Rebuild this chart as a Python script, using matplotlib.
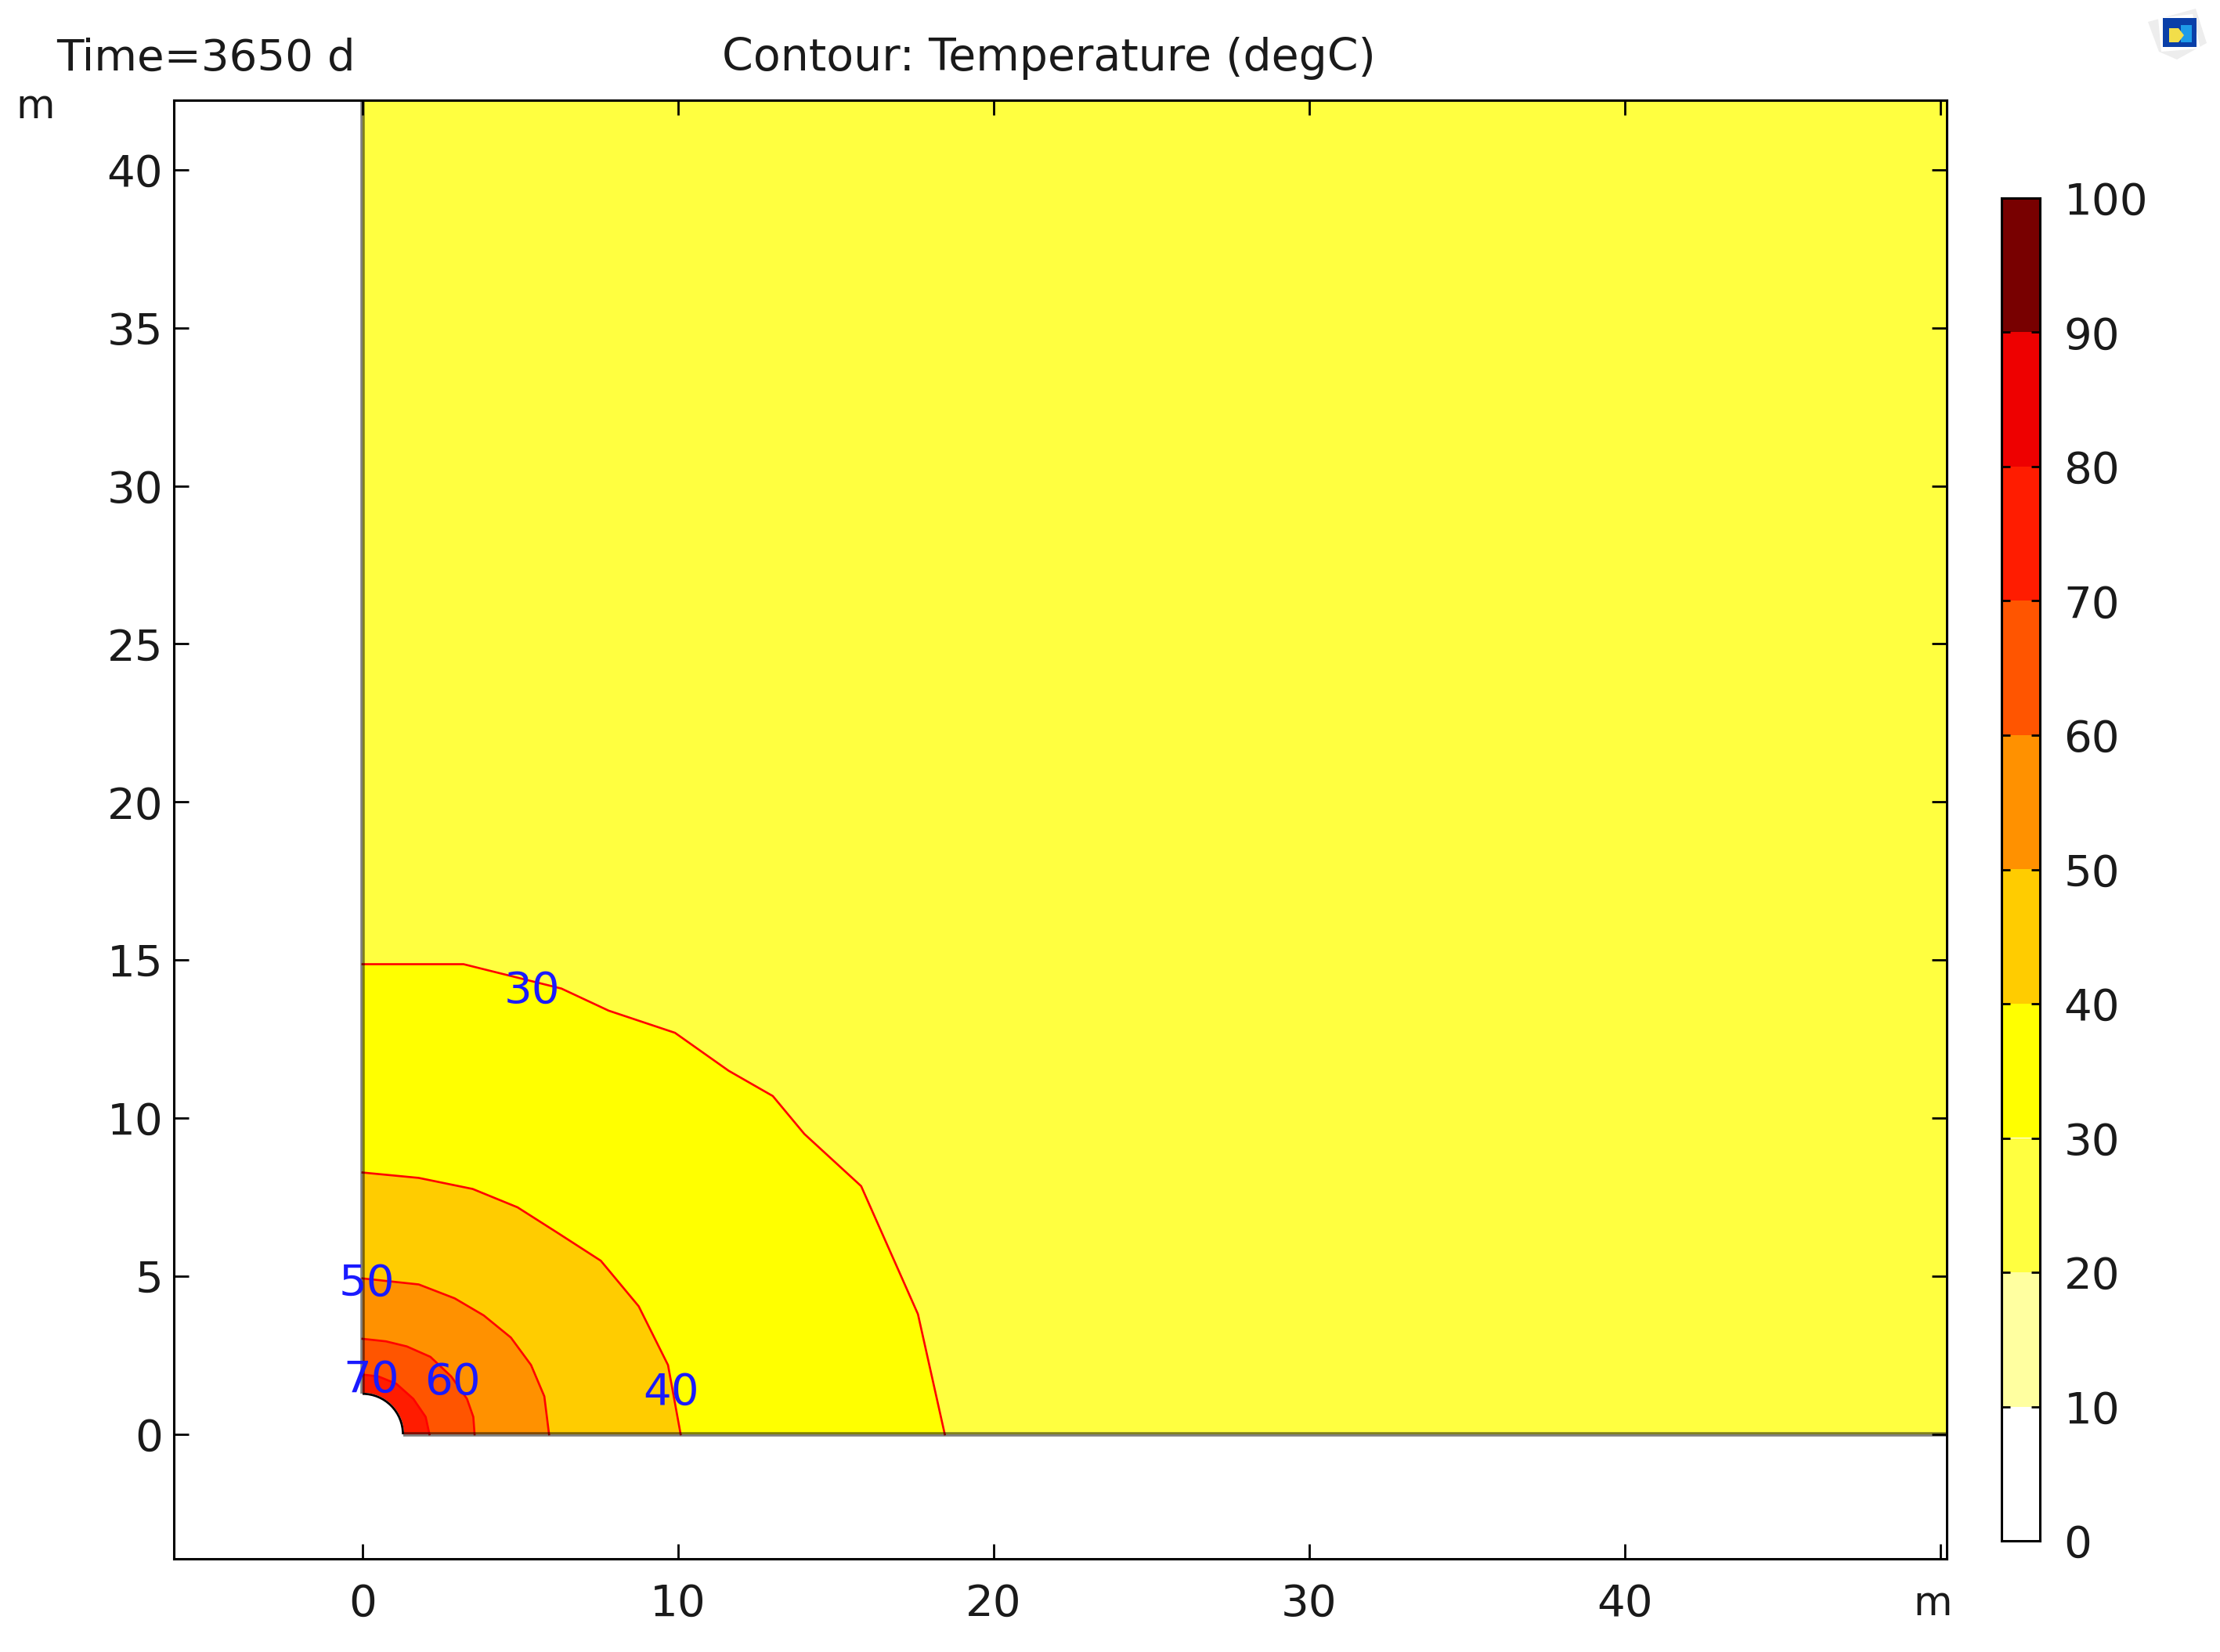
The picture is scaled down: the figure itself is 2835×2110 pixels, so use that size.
import matplotlib
matplotlib.use('Agg')
import matplotlib.pyplot as plt
from matplotlib.patches import Wedge, Arc, Polygon, Rectangle

# contour lines (m)
c30_x = [0.0, 3.2, 6.3, 7.8, 9.9, 11.6, 13.0, 14.0, 15.8, 17.6, 18.45]
c30_y = [14.87, 14.87, 14.1, 13.4, 12.7, 11.5, 10.7, 9.5, 7.85, 3.8, 0.0]
c40_x = [0.0, 1.78, 3.49, 4.91, 6.2, 7.55, 8.75, 9.68, 10.08]
c40_y = [8.28, 8.11, 7.76, 7.18, 6.36, 5.49, 4.05, 2.19, 0.0]
c50_x = [0.0, 1.78, 2.92, 3.84, 4.7, 5.34, 5.76, 5.91]
c50_y = [4.93, 4.74, 4.30, 3.76, 3.06, 2.19, 1.20, 0.0]
c60_x = [0.0, 0.74, 1.4, 2.15, 2.81, 3.31, 3.51, 3.55]
c60_y = [3.02, 2.94, 2.78, 2.45, 1.83, 1.12, 0.55, 0.0]
c70_x = [0.0, 0.5, 1.07, 1.61, 2.0, 2.12]
c70_y = [1.89, 1.83, 1.60, 1.12, 0.55, 0.0]

hole_radius = 1.28
x_max = 50.2
y_max = 42.2

label_text = ['30', '50', '70', '60', '40']
label_x = [5.38, 0.14, 0.27, 2.85, 9.77]
label_y = [14.02, 4.76, 1.71, 1.64, 1.31]

levels = [0, 10, 20, 30, 40, 50, 60, 70, 80, 90, 100]
level_colors = ['#FFFFFF', '#FFFFA0', '#FFFF40', '#FFFF00', '#FFCC00',
                '#FF9100', '#FF5500', '#FF1C00', '#EE0000', '#780000']

x_ticks = [0, 10, 20, 30, 40]
y_ticks = [0, 5, 10, 15, 20, 25, 30, 35, 40]

W, H = 2835, 2110
FS = 40.5
INK = '#1a1a1a'


def box(left, top, right, bottom):
    return [left / W, 1 - bottom / H, (right - left) / W, (bottom - top) / H]


fig = plt.figure(figsize=(W / 100, H / 100), dpi=100)
plt.rcParams['font.family'] = 'DejaVu Sans'

ax = fig.add_axes(box(222, 128, 2486, 1991))
ax.set_xlim(-5.98, x_max)
ax.set_ylim(-3.94, y_max)

# filled bands, outermost first
ax.add_patch(Rectangle((0, 0), x_max, y_max, color='#FFFF40', lw=0))
bands = [(c30_x, c30_y, '#FFFF00'), (c40_x, c40_y, '#FFCC00'),
         (c50_x, c50_y, '#FF9100'), (c60_x, c60_y, '#FF5500'),
         (c70_x, c70_y, '#FF1C00')]
for cx, cy, col in bands:
    ax.fill(cx + [0], cy + [0], color=col, lw=0)
    ax.plot(cx, cy, color='red', lw=1.9, zorder=3)

ax.add_patch(Wedge((0, 0), hole_radius, 0, 90, fc='white', ec='white', lw=2, zorder=4))
ax.add_patch(Arc((0, 0), 2 * hole_radius, 2 * hole_radius, theta1=0, theta2=90,
                 color='black', lw=2, zorder=5))

# domain boundary
ax.plot([0, 0], [hole_radius, y_max], color='black', alpha=0.5, lw=4,
        solid_capstyle='butt', zorder=5)
ax.plot([hole_radius, x_max], [0, 0], color='black', alpha=0.5, lw=4,
        solid_capstyle='butt', zorder=5)

for t, lx, ly in zip(label_text, label_x, label_y):
    ax.text(lx, ly, t, color='#1A1AFF', fontsize=FS, ha='center',
            va='center', zorder=6)

ax.set_xticks(x_ticks + [50])
ax.set_xticklabels([str(v) for v in x_ticks] + [''])
ax.set_yticks(y_ticks)
ax.tick_params(axis='both', direction='in', length=14, width=2, top=True,
               right=True, labelsize=FS, labelcolor=INK)
ax.tick_params(axis='x', pad=22)
ax.tick_params(axis='y', pad=10)
for s in ax.spines.values():
    s.set_linewidth(2.2)
    s.set_zorder(7)

# colour legend
cax = fig.add_axes(box(2556, 253, 2605, 1968))
cax.set_xlim(0, 1)
cax.set_ylim(levels[0], levels[-1])
cax.bar([0.5] * len(level_colors), [10] * len(level_colors), width=1,
        bottom=levels[:-1], color=level_colors, lw=0)
cax.set_xticks([])
cax.yaxis.tick_right()
cax.set_yticks(levels)
cax.tick_params(axis='y', direction='in', length=8, width=2, left=True,
                right=True, labelsize=FS, labelcolor=INK, pad=22)
for s in cax.spines.values():
    s.set_linewidth(2.2)

fig.text(72 / W, 1 - 75 / H, 'Time=3650 d', fontsize=FS, color=INK, va='center')
fig.text(1339 / W, 1 - 75 / H, 'Contour: Temperature (degC)', fontsize=FS + 0.5,
         color=INK, ha='center', va='center')
fig.text(45 / W, 1 - 137 / H, 'm', fontsize=FS - 4, color=INK, ha='center', va='center')
fig.text(2468 / W, 1 - 2049 / H, 'm', fontsize=FS - 4, color=INK, ha='center', va='center')


# small logo in the corner
def px(x, y):
    return (x / W, 1 - y / H)


fig.add_artist(Polygon([px(2743, 28), px(2804, 11), px(2818, 55), px(2780, 76), px(2757, 66)],
                       closed=True, transform=fig.transFigure, fc='#EDEDED', ec='none'))
fig.add_artist(Polygon([px(2756, 23), px(2800, 18), px(2810, 62), px(2760, 66)],
                       closed=True, transform=fig.transFigure, fc='white', ec='none'))
fig.add_artist(Rectangle(px(2762, 60), 43 / W, 37 / H, transform=fig.transFigure,
                         fc='#0A3FA8', ec='none'))
fig.add_artist(Rectangle(px(2785, 54), 14 / W, 22 / H, transform=fig.transFigure,
                         fc='#1E9BE8', ec='none'))
fig.add_artist(Polygon([px(2770, 36), px(2782, 36), px(2789, 45), px(2782, 54), px(2770, 54)],
                       closed=True, transform=fig.transFigure, fc='#F2DE4A', ec='none'))

fig.savefig('out.png', dpi=100)
